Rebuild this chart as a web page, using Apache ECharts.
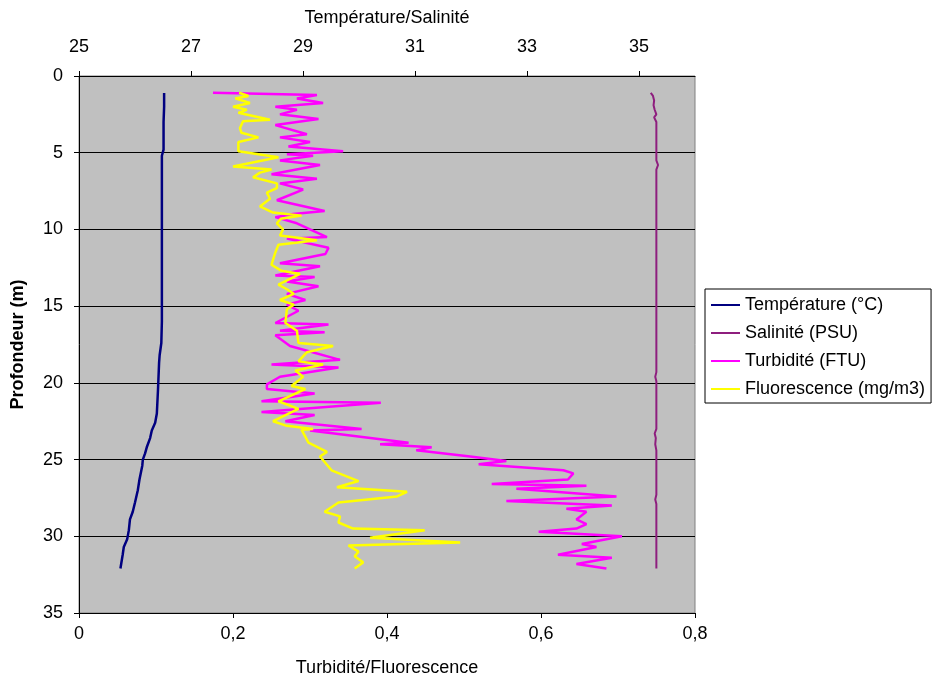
<!DOCTYPE html>
<html>
<head>
<meta charset="utf-8">
<script src="https://cdn.jsdelivr.net/npm/echarts@6/dist/echarts.min.js"></script>
<style>
  html, body { margin: 0; padding: 0; background: #ffffff; }
  #chart { width: 936px; height: 687px; }
</style>
</head>
<body>
<div id="chart"></div>
<script>
// Depth profile (m) of a CTD cast: temperature, salinity, turbidity, fluorescence

// Température (°C)
const tempDepth = [1.1, 2, 3, 4.8, 5.2, 8, 12, 16, 17.4, 18.2, 18.7, 20.5, 22, 22.6, 23.1, 23.6, 24.2, 24.6, 25, 25.4, 26.3, 27, 27.8, 28.4, 28.9, 29.6, 30.2, 30.7, 31.2, 32.1];
const tempVal   = [26.52, 26.52, 26.51, 26.51, 26.48, 26.48, 26.48, 26.48, 26.47, 26.44, 26.43, 26.41, 26.39, 26.36, 26.30, 26.27, 26.21, 26.18, 26.14, 26.13, 26.08, 26.05, 26.00, 25.96, 25.91, 25.89, 25.86, 25.80, 25.78, 25.74];

// Salinité (PSU)
const salDepth = [1.1, 1.3, 1.6, 1.9, 2.2, 2.5, 2.7, 3.0, 5.5, 5.8, 6.1, 19.3, 19.6, 19.9, 23.0, 23.3, 23.6, 24.0, 24.4, 27.3, 27.6, 27.9, 32.1];
const salVal   = [35.21, 35.25, 35.27, 35.26, 35.28, 35.31, 35.27, 35.31, 35.31, 35.34, 35.31, 35.31, 35.29, 35.31, 35.31, 35.28, 35.30, 35.29, 35.31, 35.31, 35.29, 35.31, 35.31];

// Turbidité (FTU)
const turbDepth = [1.09, 1.24, 1.46, 1.76, 2.0, 2.2, 2.5, 2.8, 3.2, 3.8, 4.0, 4.3, 4.6, 4.9, 5.1, 5.2, 5.5, 5.8, 6.4, 6.7, 7.0, 7.4, 8.1, 8.8, 9.0, 9.2, 9.6, 10.5, 10.6, 11.2, 11.6, 12.2, 12.4, 13.0, 13.1, 13.4, 13.7, 14.2, 14.6, 14.9, 15.3, 16.1, 16.2, 16.6, 16.7, 16.9, 17.6, 18.5, 18.8, 19.0, 19.6, 20.1, 20.4, 20.7, 21.2, 21.3, 21.9, 22.1, 22.5, 23.0, 23.1, 23.9, 24.0, 24.2, 24.4, 24.8, 25.1, 25.3, 25.7, 25.9, 26.3, 26.6, 26.7, 26.9, 27.4, 27.7, 28.0, 28.2, 28.4, 28.9, 29.2, 29.5, 29.7, 30.0, 30.5, 30.7, 31.2, 31.4, 31.8, 32.1];
const turbVal   = [0.174, 0.309, 0.283, 0.317, 0.255, 0.283, 0.261, 0.311, 0.255, 0.296, 0.261, 0.300, 0.272, 0.343, 0.270, 0.304, 0.261, 0.313, 0.250, 0.309, 0.261, 0.291, 0.257, 0.319, 0.278, 0.255, 0.283, 0.322, 0.270, 0.324, 0.320, 0.261, 0.313, 0.255, 0.306, 0.270, 0.311, 0.270, 0.294, 0.270, 0.285, 0.255, 0.324, 0.261, 0.319, 0.255, 0.274, 0.339, 0.250, 0.337, 0.261, 0.244, 0.244, 0.306, 0.237, 0.392, 0.237, 0.306, 0.268, 0.367, 0.300, 0.428, 0.391, 0.458, 0.438, 0.508, 0.555, 0.519, 0.629, 0.642, 0.635, 0.536, 0.659, 0.568, 0.698, 0.555, 0.692, 0.633, 0.659, 0.646, 0.659, 0.646, 0.597, 0.705, 0.653, 0.672, 0.622, 0.692, 0.646, 0.685];

// Fluorescence (mg/m3)
const fluoDepth = [1.09, 1.3, 1.46, 1.76, 2.0, 2.2, 2.4, 2.85, 2.95, 3.4, 3.7, 4.0, 4.3, 4.9, 5.3, 5.9, 6.1, 6.3, 6.6, 7.0, 7.3, 7.6, 8.0, 8.5, 8.9, 9.1, 9.3, 9.6, 10.0, 10.4, 10.7, 11.0, 11.5, 12.3, 12.7, 12.9, 13.6, 13.9, 14.2, 14.6, 14.9, 15.2, 16.1, 16.6, 17.4, 17.6, 18.0, 18.6, 18.8, 19.2, 19.6, 20.2, 20.4, 21.2, 21.7, 22.5, 22.8, 23.0, 23.05, 23.9, 24.5, 24.8, 25.7, 26.4, 26.8, 27.1, 27.4, 27.8, 28.4, 28.7, 29.1, 29.5, 29.6, 30.1, 30.4, 30.6, 31.0, 31.3, 31.7, 32.1];
const fluoVal   = [0.208, 0.220, 0.203, 0.222, 0.200, 0.218, 0.207, 0.248, 0.213, 0.209, 0.211, 0.233, 0.207, 0.207, 0.259, 0.200, 0.250, 0.235, 0.226, 0.257, 0.257, 0.244, 0.248, 0.235, 0.252, 0.289, 0.262, 0.257, 0.265, 0.261, 0.309, 0.259, 0.255, 0.250, 0.263, 0.287, 0.259, 0.270, 0.279, 0.261, 0.279, 0.270, 0.268, 0.283, 0.285, 0.330, 0.296, 0.285, 0.317, 0.281, 0.291, 0.276, 0.294, 0.259, 0.285, 0.252, 0.270, 0.304, 0.289, 0.298, 0.322, 0.313, 0.328, 0.363, 0.335, 0.426, 0.413, 0.337, 0.319, 0.339, 0.337, 0.356, 0.449, 0.378, 0.495, 0.350, 0.363, 0.358, 0.369, 0.358];

// Axis ticks
const depthTicks = [0, 5, 10, 15, 20, 25, 30, 35];
const tsTicks = [25, 27, 29, 31, 33, 35];
const tfTicks = [0, 0.2, 0.4, 0.6, 0.8];

const pairs = (vals, depths) => vals.map((v, i) => [v, depths[i]]);
const fr = v => String(v).replace('.', ',');

const FONT = 'Liberation Sans, Arial, sans-serif';
const txt = { color: '#000', fontFamily: FONT, fontSize: 18 };

const chart = echarts.init(document.getElementById('chart'), null, { renderer: 'canvas' });

chart.setOption({
  animation: false,
  backgroundColor: '#ffffff',
  grid: {
    left: 79, top: 76, width: 616, height: 537,
    show: true, backgroundColor: '#C0C0C0', borderColor: '#808080', borderWidth: 1
  },
  legend: {
    orient: 'vertical',
    left: 705, top: 289,
    padding: [7, 6, 5, 6],
    itemGap: 10,
    icon: 'rect',
    itemWidth: 29, itemHeight: 2,
    borderColor: '#000', borderWidth: 1,
    textStyle: Object.assign({}, txt, { padding: [0, 0, 0, 0] }),
    data: ['Température (°C)', 'Salinité (PSU)', 'Turbidité (FTU)', 'Fluorescence (mg/m3)']
  },
  xAxis: [
    {
      type: 'value', position: 'bottom',
      min: 0, max: 0.8, interval: 0.2,
      name: 'Turbidité/Fluorescence', nameLocation: 'middle', nameGap: 46,
      nameTextStyle: txt,
      axisLine: { show: true, onZero: false, lineStyle: { color: '#000', width: 1 } },
      axisTick: { show: true, inside: false, length: 5, lineStyle: { color: '#000' }, customValues: tfTicks },
      axisLabel: { show: true, margin: 12, formatter: v => fr(v), customValues: tfTicks, ...txt },
      splitLine: { show: false }
    },
    {
      type: 'value', position: 'top',
      min: 25, max: 36,
      name: 'Température/Salinité', nameLocation: 'middle', nameGap: 49,
      nameTextStyle: txt,
      axisLine: { show: true, onZero: false, lineStyle: { color: '#000', width: 1 } },
      axisTick: { show: true, inside: false, length: 5, lineStyle: { color: '#000' }, customValues: tsTicks },
      axisLabel: { show: true, margin: 20, customValues: tsTicks, ...txt },
      splitLine: { show: false }
    }
  ],
  yAxis: {
    type: 'value', inverse: true,
    min: 0, max: 35, interval: 5,
    name: 'Profondeur (m)', nameLocation: 'middle', nameGap: 52,
    nameTextStyle: Object.assign({}, txt, { fontWeight: 'bold' }),
    axisLine: { show: true, onZero: false, lineStyle: { color: '#000', width: 1 } },
    axisTick: { show: true, inside: false, length: 5, lineStyle: { color: '#000' }, customValues: depthTicks },
    axisLabel: { show: true, margin: 16, customValues: depthTicks, ...txt },
    splitLine: { show: true, lineStyle: { color: '#000', width: 1 } }
  },
  series: [
    {
      name: 'Température (°C)', type: 'line', xAxisIndex: 1,
      data: pairs(tempVal, tempDepth), showSymbol: false, symbol: 'none',
      lineStyle: { color: '#000080', width: 2.5 }, itemStyle: { color: '#000080' }
    },
    {
      name: 'Salinité (PSU)', type: 'line', xAxisIndex: 1,
      data: pairs(salVal, salDepth), showSymbol: false, symbol: 'none',
      lineStyle: { color: '#8E1E7E', width: 2 }, itemStyle: { color: '#8E1E7E' }
    },
    {
      name: 'Turbidité (FTU)', type: 'line', xAxisIndex: 0,
      data: pairs(turbVal, turbDepth), showSymbol: false, symbol: 'none',
      lineStyle: { color: '#FF00FF', width: 2.5 }, itemStyle: { color: '#FF00FF' }
    },
    {
      name: 'Fluorescence (mg/m3)', type: 'line', xAxisIndex: 0,
      data: pairs(fluoVal, fluoDepth), showSymbol: false, symbol: 'none',
      lineStyle: { color: '#FFFF00', width: 2.5 }, itemStyle: { color: '#FFFF00' }
    }
  ]
});
</script>
</body>
</html>
